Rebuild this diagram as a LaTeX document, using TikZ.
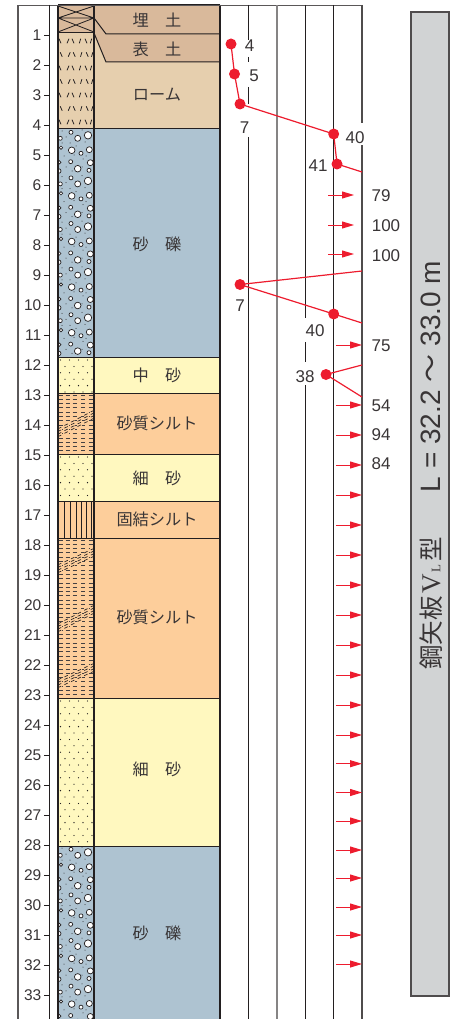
\documentclass[tikz,border=0pt]{standalone}
\usepackage{fontspec}
\usetikzlibrary{arrows.meta}
\setmainfont{Liberation Sans}
\newfontfamily\cjk{Noto Sans CJK JP}
\newfontfamily\serifV{Liberation Serif}
\definecolor{ink}{HTML}{231F20}
\definecolor{fillc}{HTML}{D9B99B}
\definecolor{loam}{HTML}{E6CFAE}
\definecolor{gravel}{HTML}{AEC3D1}
\definecolor{sand}{HTML}{FFF8BF}
\definecolor{silt}{HTML}{FDCE9B}
\definecolor{red1}{HTML}{ED1C2E}
\definecolor{bar}{HTML}{D1D3D4}
\tikzset{
  x=1pt,y=-1pt,
  layer/.style={draw=ink,line width=1pt},
  soil/.style={font=\cjk\fontsize{16.2}{16}\selectfont,text=ink!90,inner sep=0pt},
  depth/.style={font=\fontsize{15.5}{16}\selectfont,text=ink!90,anchor=east,inner sep=0pt,yshift=-1pt},
  val/.style={font=\fontsize{17}{17}\selectfont,text=ink!90,fill=white,inner sep=1pt,yshift=-1pt},
  pt/.style={circle,fill=red1,inner sep=0pt,minimum size=11pt},
  link/.style={draw=red1,line width=1.2pt},
  push/.style={draw=red1,line width=1pt,-{Triangle[length=12pt,width=7pt]}},
  grid/.style={draw=ink,line width=1pt},
}
\newcommand{\gravelband}[2]{%
  \begin{scope}
    \clip (58,#1) rectangle (94,#2);
    \foreach \n in {0,...,5}{
      \begin{scope}[yshift=-\n*45.6pt]
        \foreach \cx/\cy/\r in {71/3.3/2,77.7/9.3/3,88/6.3/3.7,60.3/9.3/2,61/18.7/1.7,71.7/21.3/3.3,81/24.3/2,89.3/20.7/3,59.3/33.3/1.7,70.7/32.7/2,90.3/33.7/3,77.7/39.7/3.3,89/41.3/2,58.7/42/2.3}
          \draw[ink,line width=.7pt,fill=white] (\cx,#1+\cy) circle (\r);
        \foreach \cx/\cy in {62/2,66/8,82/1,70/14,76/17,64/27,85/13,83/30,66/38,74/26,82/38,62/14,86/27,72/42}
          \fill[ink] (\cx,#1+\cy) circle (.5);
      \end{scope}
    }
  \end{scope}}
\newcommand{\sandband}[2]{%
  \begin{scope}
    \clip (58,#1) rectangle (94,#2);
    \foreach \n in {0,...,23}{
      \foreach \m in {0,1,2,3}{
        \pgfmathsetmacro{\sx}{60.5+\m*9+mod(\n,2)*4.5}
        \fill[ink] (\sx,#1+3+\n*6.4) circle (.65);
      }
    }
  \end{scope}}
\newcommand{\siltband}[2]{%
  \begin{scope}
    \clip (58,#1) rectangle (94,#2);
    \foreach \n in {0,...,37}{
      \foreach \cx in {58.5,65.5,72.5,81,88.5}
        \draw[ink!85,line width=.9pt] (\cx,#1+2+\n*4.3) -- ++(4,0);
    }
  \end{scope}}
\newcommand{\waves}[2]{%
  \foreach \k in {0,...,5}{
    \pgfmathsetmacro{\wx}{59.5+\k*6.6}
    \pgfmathsetmacro{\wy}{#1+(#2-#1)*\k/5}
    \fill[silt] (\wx-2.4,\wy-5) rectangle (\wx+2.4,\wy+5);
    \foreach \j in {-1.5,-.5,.5,1.5}
      \draw[ink,line width=.65pt] (\wx-1.7,\wy+\j*2.6+.8) -- (\wx+1.7,\wy+\j*2.6-.8);
  }}
\begin{document}
\begin{tikzpicture}
\useasboundingbox (0,0) rectangle (461,1019);
% soil main column fills
\fill[loam] (94,62) rectangle (220,129);
\fill[loam] (94,33) -- (106,62) -- (94,62) -- cycle;
\fill[fillc] (94,5) -- (220,5) -- (220,62) -- (106,62) -- (94,33) -- cycle;
\fill[gravel] (94,129) rectangle (220,357);
\fill[sand] (94,357) rectangle (220,393);
\fill[silt] (94,393) rectangle (220,454);
\fill[sand] (94,454) rectangle (220,501);
\fill[silt] (94,501) rectangle (220,538);
\fill[silt] (94,538) rectangle (220,698);
\fill[sand] (94,698) rectangle (220,846);
\fill[gravel] (94,846) rectangle (220,1019);
% pattern column fills
\fill[fillc] (58,5) rectangle (94,33);
\fill[loam] (58,33) rectangle (94,129);
\fill[gravel] (58,129) rectangle (94,357);
\fill[sand] (58,357) rectangle (94,393);
\fill[silt] (58,393) rectangle (94,454);
\fill[sand] (58,454) rectangle (94,501);
\fill[silt] (58,501) rectangle (94,538);
\fill[silt] (58,538) rectangle (94,698);
\fill[sand] (58,698) rectangle (94,846);
\fill[gravel] (58,846) rectangle (94,1019);
% patterns
\draw[ink,line width=.8pt] (58,6)--(94,18) (58,18)--(94,6) (58,18)--(94,32) (58,32)--(94,18) (58,18)--(94,18);
\foreach \r in {0,...,6}{
  \foreach \cx/\sl in {60/1,68/-1,73/1,80/-.7,86/1,91/-.7}{
    \pgfmathsetmacro{\ry}{41+\r*13.5}
    \pgfmathsetmacro{\qx}{\cx+mod(\r,2)*1.2}
    \draw[ink,line width=.75pt] (\qx-\sl*1,\ry-2.3) -- (\qx+\sl*1,\ry+2.3);
  }
}
\gravelband{129}{357}
\gravelband{846}{1019}
\sandband{357}{393}
\sandband{454}{501}
\sandband{698}{846}
\siltband{393}{454}
\siltband{538}{698}
\waves{432}{415}
\waves{568}{553}
\waves{627}{610}
\waves{683}{668}
\foreach \cx in {64.3,70.3,76,81,86.7,91.7}
  \draw[ink,line width=.9pt] (\cx,501) -- (\cx,538);
% layer boundaries
\draw[layer] (58,5) -- (220,5);
\draw[layer] (94,18) -- (106,34) -- (220,34);
\draw[layer] (94,33) -- (106,62) -- (220,62);
\draw[layer] (58,33) -- (94,33);
\foreach \by in {129,357,393,454,501,538,698,846}
  \draw[layer] (58,\by) -- (220,\by);
\draw[ink,line width=1.3pt] (58,5) -- (58,1019);
\draw[ink,line width=1.3pt] (94,5) -- (94,1019);
\draw[ink,line width=1.2pt] (220,5) -- (220,1019);
% outer frame
\draw[ink!75,line width=1.2pt] (18,1019) -- (18,5.5) -- (362,5.5);
\draw[ink,line width=1.5pt] (49.3,5) -- (49.3,1019);
\foreach \d in {1,...,33}{
  \pgfmathsetmacro{\ty}{5+\d*30}
  \draw[ink,line width=.8pt] (44,\ty) -- (49,\ty);
  \node[depth] (d\d) at (41.5,\ty-1) {\d};
}
% soil names
\node[soil] (s1) at (157,20) {埋　土};
\node[soil] (s2) at (157,49) {表　土};
\node[soil] (s3) at (157,95) {ローム};
\node[soil] (s4) at (157,244) {砂　礫};
\node[soil] (s5) at (157,375) {中　砂};
\node[soil] (s6) at (157,423) {砂質シルト};
\node[soil] (s7) at (157,478) {細　砂};
\node[soil] (s8) at (157,519) {固結シルト};
\node[soil] (s9) at (157,617) {砂質シルト};
\node[soil] (s10) at (157,769) {細　砂};
\node[soil] (s11) at (157,933) {砂　礫};
% grid lines
\draw[grid] (248.5,5) -- (248.5,40) (248.5,57) -- (248.5,62) (248.5,87) -- (248.5,104) (248.5,137) -- (248.5,1019);
\draw[draw=ink!55,line width=1.3pt] (277,5) -- (277,1019);
\draw[grid] (305,5) -- (305,318) (305,342) -- (305,362) (305,385) -- (305,1019);
\draw[grid] (333.7,5) -- (333.7,1019);
\draw[ink!80,line width=1.5pt] (362,5) -- (362,123) (362,145) -- (362,1019);
% N-value points and links
\node[pt] (p1) at (231,44) {};
\node[pt] (p2) at (234.5,74) {};
\node[pt] (p3) at (240,104) {};
\node[pt] (p4) at (333.7,134) {};
\node[pt] (p5) at (337,164) {};
\coordinate (e1) at (362,172);
\coordinate (e2) at (362,271);
\node[pt] (p6) at (240,284.5) {};
\node[pt] (p7) at (333.7,314) {};
\coordinate (e3) at (362,323);
\coordinate (e4) at (362,365);
\node[pt] (p8) at (326,374.5) {};
\coordinate (e5) at (362,397);
\draw[link] (p1.center) -- (p2.center) -- (p3.center) -- (p4.center) -- (p5.center) -- (e1);
\draw[link] (e2) -- (p6.center) -- (p7.center) -- (e3);
\draw[link] (e4) -- (p8.center) -- (e5);
% penetration arrows
\foreach \ay in {195,225,254}{
  \coordinate (as\ay) at (328,\ay);
  \coordinate (ae\ay) at (354,\ay);
  \draw[push] (as\ay) -- (ae\ay);
}
\foreach \ay in {345,405,435,465,495,525,555,585,615,645,675,705,735,763.7,792.5,821,850,878,907,935,964}{
  \coordinate (bs) at (336,\ay);
  \coordinate (be) at (362,\ay);
  \draw[push] (bs) -- (be);
}
% values
\node[val,fill=none] (v1) at (249.5,45) {4};
\node[val,fill=none] (v2) at (254,75) {5};
\node[val,fill=none] (v3) at (244.5,127) {7};
\node[val] (v4) at (355,137) {40};
\node[val] (v5) at (318,165) {41};
\node[val,fill=none] (v6) at (381,195) {79};
\node[val,fill=none] (v7) at (386,225) {100};
\node[val,fill=none] (v8) at (386,255) {100};
\node[val] (v9) at (240,305) {7};
\node[val,fill=none] (v10) at (315,330) {40};
\node[val,fill=none] (v11) at (381,345) {75};
\node[val,fill=none] (v12) at (305,376) {38};
\node[val,fill=none] (v13) at (381,405) {54};
\node[val,fill=none] (v14) at (381,434) {94};
\node[val,fill=none] (v15) at (381,463) {84};
% sheet pile bar
\node[draw=ink!80,line width=1.5pt,fill=bar,minimum width=38pt,minimum height=984pt,inner sep=0pt] (bar) at (430,504) {};
\node[rotate=90,font=\fontsize{28}{28}\selectfont,text=ink!90,inner sep=0pt] (t1) at (431,376.5) {L = 32.2 {\cjk ～} 33.0 m};
\node[rotate=90,text=ink!90,inner sep=0pt] (t2) at (431,603.5) {\fontsize{24.5}{24.5}\selectfont\cjk 鋼矢板\hspace{3pt}{\serifV\fontsize{27}{27}\selectfont V\hspace{1pt}{\fontsize{13}{13}\selectfont L}}\hspace{3pt}型};
\end{tikzpicture}
\end{document}
